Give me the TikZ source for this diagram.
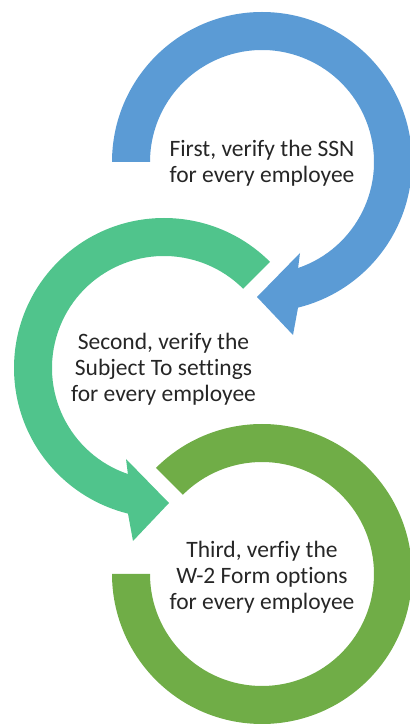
\documentclass[tikz,border=0pt]{standalone}
\usepackage{fontspec}
\setmainfont{Carlito}[Ligatures=NoCommon]
\definecolor{ringblue}{HTML}{5B9BD5}
\definecolor{ringteal}{HTML}{50C48C}
\definecolor{ringgreen}{HTML}{70AD47}
\definecolor{steptext}{HTML}{262626}
\begin{document}
\begin{tikzpicture}[x=1pt,y=1pt,
  steplabel/.style={align=center, text=steptext, inner sep=0pt,
    font=\fontsize{23.5}{26}\selectfont}]
\useasboundingbox (0,0) rectangle (410,724);

% circular arrow with its head at the lower right, drawn around the origin;
% #1 is the angle where the tail is cut, #2 the fill colour
\newcommand\headedring[2]{%
  \fill[#2] (#1:150) arc[start angle=#1, end angle=-76.1, radius=150]
    -- (31,-173) -- (-5,-135) -- (38,-91)
    -- (-71.2:112) arc[start angle=-71.2, end angle=#1, radius=112] -- cycle;}

% step 1: blue arrow, clockwise from the left
\begin{scope}[shift={(262,562)}]
  \headedring{180}{ringblue}
\end{scope}

% step 2: teal arrow, mirrored, counter-clockwise from the upper right
\begin{scope}[shift={(164,356)}, xscale=-1]
  \headedring{135}{ringteal}
\end{scope}

% step 3: green ring without a head
\begin{scope}[shift={(262,150)}]
  \fill[ringgreen] (135:150) arc[start angle=135, end angle=-180, radius=150]
    -- (-180:112) arc[start angle=-180, end angle=135, radius=112] -- cycle;
\end{scope}

\node[steplabel] (first)  at (262,561)   {First, verify the SSN\\for every employee};
\node[steplabel] (second) at (163.5,355) {Second, verify the\\Subject To settings\\for every employee};
\node[steplabel] (third)  at (262,147)   {Third, verfiy the\\W-2 Form options\\for every employee};
\end{tikzpicture}
\end{document}
